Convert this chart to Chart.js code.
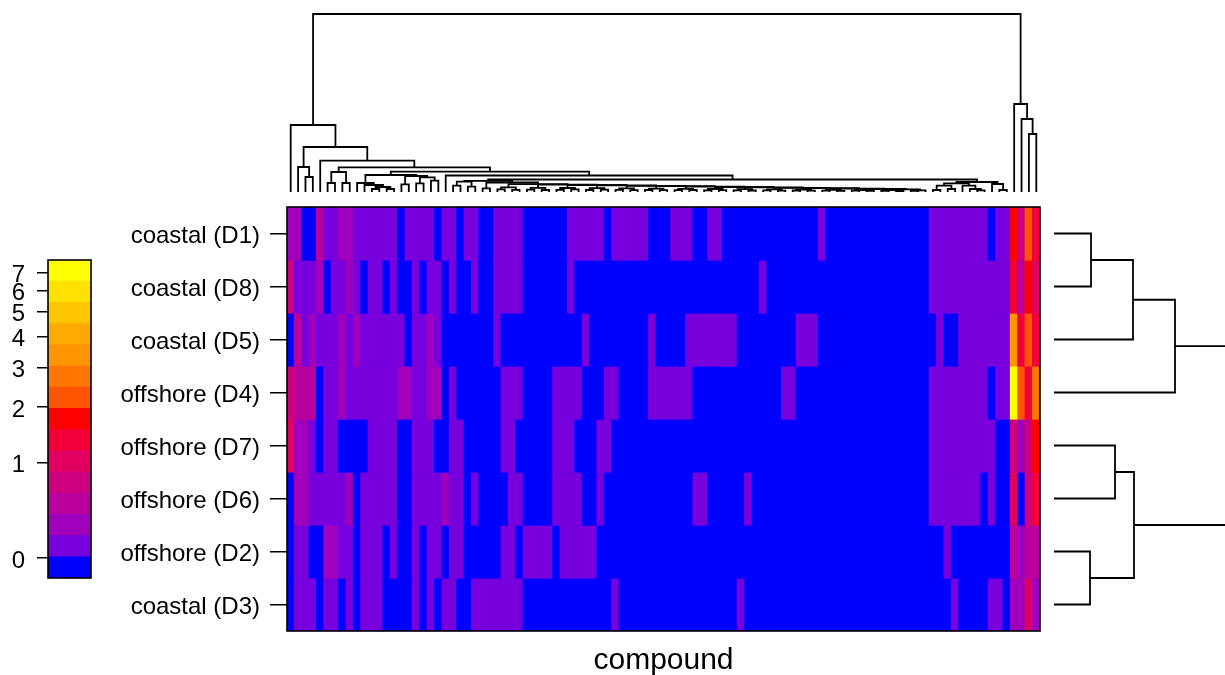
<!DOCTYPE html>
<html>
<head>
<meta charset="utf-8">
<title>compound heatmap</title>
<script src="https://cdn.jsdelivr.net/npm/chart.js@4"></script>
<style>
  html, body { margin: 0; padding: 0; background: #fff; }
  body { position: relative; width: 1225px; height: 675px; overflow: hidden; }
  canvas { position: absolute; display: block; }
</style>
</head>
<body>
<canvas id="chart-key" width="92" height="340" style="left:0;top:250px"></canvas>
<canvas id="chart-top" width="753" height="192" style="left:287px;top:0"></canvas>
<canvas id="chart-heat" width="1052" height="489" style="left:0;top:190px"></canvas>
<canvas id="chart-side" width="171" height="424" style="left:1054px;top:207px"></canvas>
<script>
const rowLabels = ['coastal (D1)', 'coastal (D8)', 'coastal (D5)', 'offshore (D4)', 'offshore (D7)', 'offshore (D6)', 'offshore (D2)', 'coastal (D3)'];
const xTitle = 'compound';

// colour level per compound, 102 columns in dendrogram order
const rowD1 = [2,2,0,0,3,1,1,2,2,1, 1,1,1,1,1,0,1,1,1,1, 0,1,1,0,1,1,0,0,1,1, 1,1,0,0,0,0,0,0,1,1, 1,1,1,0,1,1,1,1,1,0, 0,0,1,1,1,0,0,1,1,0, 0,0,0,0,0,0,0,0,0,0, 0,0,1,0,0,0,0,0,0,0, 0,0,0,0,0,0,0,1,1,1, 1,1,1,1,1,0,1,1,7,4, 8,6];
const rowD8 = [4,1,1,1,2,0,1,1,2,1, 0,1,1,0,1,0,0,1,0,1, 1,0,1,0,0,1,0,0,1,1, 1,1,0,0,0,0,0,0,1,0, 0,0,0,0,0,0,0,0,0,0, 0,0,0,0,0,0,0,0,0,0, 0,0,0,0,1,0,0,0,0,0, 0,0,0,0,0,0,0,0,0,0, 0,0,0,0,0,0,0,1,1,1, 1,1,1,1,1,1,1,1,6,3, 7,5];
const rowD5 = [0,3,1,2,1,1,1,2,1,2, 1,1,1,1,1,1,0,1,1,2, 1,0,0,0,0,0,0,0,1,0, 0,0,0,0,0,0,0,0,0,0, 1,0,0,0,0,0,0,0,0,1, 0,0,0,0,1,1,1,1,1,1, 1,0,0,0,0,0,0,0,0,1, 1,1,0,0,0,0,0,0,0,0, 0,0,0,0,0,0,0,0,1,0, 0,1,1,1,1,1,1,1,10,6, 8,6];
const rowD4 = [4,3,3,3,0,1,1,2,1,1, 1,1,1,1,1,2,2,1,1,2, 2,0,1,0,0,0,0,0,0,1, 1,1,0,0,0,0,1,1,1,1, 0,0,0,1,1,0,0,0,0,1, 1,1,1,1,1,0,0,0,0,0, 0,0,0,0,0,0,0,1,1,0, 0,0,0,0,0,0,0,0,0,0, 0,0,0,0,0,0,0,1,1,1, 1,1,1,1,1,0,1,1,14,8, 6,9];
const rowD7 = [5,2,2,1,0,1,1,0,0,0, 0,1,1,1,1,0,0,1,1,1, 0,0,1,1,0,0,0,0,0,1, 1,0,0,0,0,0,1,1,1,0, 0,0,1,1,0,0,0,0,0,0, 0,0,0,0,0,0,0,0,0,0, 0,0,0,0,0,0,0,0,0,0, 0,0,0,0,0,0,0,0,0,0, 0,0,0,0,0,0,0,1,1,1, 1,1,1,1,1,1,0,0,4,2, 4,7];
const rowD6 = [0,2,2,1,1,1,1,1,2,0, 1,1,1,1,1,0,0,1,1,1, 1,2,1,1,0,1,0,0,0,0, 1,1,0,0,0,0,1,1,1,1, 0,0,1,0,0,0,0,0,0,0, 0,0,0,0,0,1,1,0,0,0, 0,0,1,0,0,0,0,0,0,0, 0,0,0,0,0,0,0,0,0,0, 0,0,0,0,0,0,0,1,1,1, 1,1,1,1,0,1,0,0,5,0, 4,6];
const rowD2 = [0,1,1,0,0,2,2,1,1,0, 1,1,1,0,1,0,0,1,0,1, 1,0,1,1,0,0,0,0,0,1, 1,0,1,1,1,1,0,1,1,1, 1,1,0,0,0,0,0,0,0,0, 0,0,0,0,0,0,0,0,0,0, 0,0,0,0,0,0,0,0,0,0, 0,0,0,0,0,0,0,0,0,0, 0,0,0,0,0,0,0,0,0,1, 0,0,0,0,0,0,0,0,3,2, 3,3];
const rowD3 = [0,1,1,1,0,1,1,0,1,0, 1,1,1,0,0,0,0,1,0,1, 0,1,1,0,0,1,1,1,1,1, 1,1,0,0,0,0,0,0,0,0, 0,0,0,0,1,0,0,0,0,0, 0,0,0,0,0,0,0,0,0,0, 0,1,0,0,0,0,0,0,0,0, 0,0,0,0,0,0,0,0,0,0, 0,0,0,0,0,0,0,0,0,0, 1,0,0,0,0,1,1,0,2,2, 5,2];
const heatRows = [rowD1, rowD8, rowD5, rowD4, rowD7, rowD6, rowD2, rowD3];

const levelColors = ['#0000ff', '#7700dd', '#9e00bc', '#b9009d', '#cf007f', '#e10060', '#f20039', '#ff0000', '#ff5500', '#ff7700', '#ff9500', '#ffaa00', '#ffc600', '#ffe100', '#ffff00'];

// key runs on log(1 + value)
const keyTicks = [0, 1, 2, 3, 4, 5, 6, 7];
const keyBreaks = [-0.146, 0.009, 0.163, 0.317, 0.472, 0.626, 0.780, 0.934, 1.089, 1.243, 1.397, 1.552, 1.706, 1.860, 2.015, 2.169];

// hclust style merges: negative = leaf number, positive = earlier merge, then height
const topMerges = [
  [-3,-4,15], [-2,1,25], [-6,-7,9], [-8,-9,9], [3,4,20],
  [-12,-13,3], [-14,-15,3], [6,7,5], [-11,8,7], [-10,9,9],
  [-16,-17,7.7], [-18,-19,8.7], [-20,-21,11.3], [12,13,14.7], [11,14,16], [10,15,17],
  [-23,-24,6.3], [-25,-26,5.3], [17,18,10.3], [-27,-28,3.7],
  [-29,-30,2.6], [-31,-32,2.2], [21,22,4.6],
  [-33,-34,2.4], [-35,-36,2], [24,25,4.2],
  [-37,-38,2.2], [-39,-40,2.6], [27,28,4],
  [-41,-42,2], [-43,-44,2.4], [30,31,3.8],
  [-45,-46,2.2], [-47,-48,1.8], [33,34,3.6],
  [-49,-50,2], [-51,-52,1.8], [36,37,3.4],
  [-53,-54,1.8], [-55,-56,2], [39,40,3.2],
  [-57,-58,1.6], [-59,-60,1.9], [42,43,3],
  [-61,-62,1.7], [-63,-64,1.5], [45,46,2.8],
  [-65,-66,1.6], [-67,-68,1.4], [48,49,2.6],
  [-69,-70,1.5], [-71,-72,1.3], [51,52,2.4],
  [-73,-74,1.4], [-75,-76,1.2], [54,55,2.2],
  [-77,-78,1.3], [-79,-80,1.1], [57,58,2],
  [-81,-82,1.2], [-83,-84,1], [60,61,1.8],
  [-85,-86,1.1], [-87,63,1.6],
  [62,64,2.6], [59,65,3], [56,66,3.4], [53,67,3.8], [50,68,4.2], [47,69,4.6],
  [44,70,5], [41,71,5.4], [38,72,5.8], [35,73,6.2], [32,74,6.6], [29,75,7],
  [26,76,7.4], [23,77,7.8], [20,78,9.5], [19,79,11.2],
  [-88,-89,2], [-90,-91,3], [81,82,6.3], [-94,-95,1.7], [-93,84,3], [-92,85,6.3], [83,86,8.7],
  [-97,-98,2], [-96,88,8], [87,89,10], [80,90,12.5],
  [-22,91,16.5], [16,92,20.3], [5,93,24.7], [-5,94,31.3], [2,95,45], [-1,96,67],
  [-101,-102,58], [-100,98,73], [-99,99,88], [97,100,178],
];
const sideMerges = [[-1,-2,37], [1,-3,79], [2,-4,121], [-5,-6,61], [-7,-8,36], [4,5,80], [3,6,200]];

const FONT_FAMILY = '"Liberation Sans", Arial, sans-serif';
const LINE_COLOR = '#000';

const framePlugin = {
  id: 'frame',
  afterDraw(chart) {
    const { ctx, chartArea } = chart;
    ctx.save();
    ctx.strokeStyle = LINE_COLOR;
    ctx.lineWidth = 1.6;
    ctx.strokeRect(chartArea.left, chartArea.top, chartArea.width, chartArea.height);
    ctx.restore();
  },
};

// turns merges into one U shaped line each, at [position, height]
function mergeLines(merges) {
  const nodes = [];
  const locate = (ref) => (ref < 0 ? { pos: -ref - 0.5, height: 0 } : nodes[ref - 1]);
  const lines = merges.map(([left, right, height]) => {
    const a = locate(left);
    const b = locate(right);
    nodes.push({ pos: (a.pos + b.pos) / 2, height });
    return [[a.pos, a.height], [a.pos, height], [b.pos, height], [b.pos, b.height]];
  });
  return lines;
}

function dendroDatasets(merges, toPoint) {
  return mergeLines(merges).map((line) => ({
    data: line.map(toPoint),
    showLine: true,
    pointRadius: 0,
    borderColor: LINE_COLOR,
    borderWidth: 1.8,
    tension: 0,
  }));
}

function baseOptions(scales, padding = 0) {
  return {
    responsive: false,
    animation: false,
    events: [],
    layout: { padding },
    plugins: { legend: { display: false }, tooltip: { enabled: false } },
    scales,
  };
}

function makeTopDendrogram() {
  new Chart(document.getElementById('chart-top'), {
    type: 'scatter',
    data: { datasets: dendroDatasets(topMerges, ([pos, height]) => ({ x: pos - 0.5, y: height })) },
    options: baseOptions({
      x: { type: 'linear', display: false, min: -0.5, max: 101.5 },
      y: { type: 'linear', display: false, min: 0, max: 192 },
    }),
  });
}

function makeSideDendrogram() {
  new Chart(document.getElementById('chart-side'), {
    type: 'scatter',
    data: { datasets: dendroDatasets(sideMerges, ([pos, height]) => ({ x: height, y: pos })) },
    options: baseOptions({
      x: { type: 'linear', display: false, min: 0, max: 171 },
      y: { type: 'linear', display: false, min: 0, max: 8, reverse: true },
    }),
  });
}

function makeHeatmap() {
  new Chart(document.getElementById('chart-heat'), {
    type: 'bar',
    data: {
      labels: rowD1.map((_, i) => i + 1),
      datasets: heatRows.map((row, i) => ({
        label: rowLabels[i],
        data: row.map(() => 1),
        backgroundColor: row.map((level) => levelColors[level]),
        barPercentage: 1,
        categoryPercentage: 1,
        inflateAmount: 0.6,
      })),
    },
    options: baseOptions({
      x: {
        stacked: true,
        grid: { display: false },
        border: { display: false },
        ticks: { display: false },
        title: { display: true, text: xTitle, color: LINE_COLOR, font: { family: FONT_FAMILY, size: 30 }, padding: { top: 13, bottom: 0 } },
        afterFit(axis) { axis.height = 48; },
      },
      y: {
        stacked: true,
        min: 0,
        max: 8,
        reverse: true,
        border: { display: false },
        grid: { drawOnChartArea: false, tickLength: 17, color: LINE_COLOR, lineWidth: 1.5 },
        afterBuildTicks(axis) { axis.ticks = rowLabels.map((_, i) => ({ value: i + 0.5 })); },
        ticks: {
          autoSkip: false,
          padding: 10,
          labelOffset: 3,
          color: LINE_COLOR,
          font: { family: FONT_FAMILY, size: 24 },
          callback: (_value, index) => rowLabels[index],
        },
        afterFit(axis) {
          axis.width = 287;
          axis.paddingTop = 0;
          axis.paddingBottom = 0;
        },
      },
    }, { top: 17, right: 12 }),
    plugins: [framePlugin],
  });
}

function makeColorKey() {
  new Chart(document.getElementById('chart-key'), {
    type: 'bar',
    data: {
      labels: ['key'],
      datasets: levelColors.map((color, i) => ({
        data: [[keyBreaks[i], keyBreaks[i + 1]]],
        backgroundColor: color,
        grouped: false,
        barPercentage: 1,
        categoryPercentage: 1,
      })),
    },
    options: baseOptions({
      x: { display: false },
      y: {
        min: keyBreaks[0],
        max: keyBreaks[keyBreaks.length - 1],
        border: { display: false },
        grid: { drawOnChartArea: false, tickLength: 11, color: LINE_COLOR, lineWidth: 1.5 },
        afterBuildTicks(axis) { axis.ticks = keyTicks.map((v) => ({ value: Math.log(1 + v) })); },
        ticks: {
          autoSkip: false,
          padding: 12,
          labelOffset: 3,
          color: LINE_COLOR,
          font: { family: FONT_FAMILY, size: 24 },
          callback: (_value, index) => keyTicks[index],
        },
        afterFit(axis) {
          axis.width = 48;
          axis.paddingTop = 0;
          axis.paddingBottom = 0;
        },
      },
    }, { top: 10, bottom: 12, right: 1 }),
    plugins: [framePlugin],
  });
}

makeTopDendrogram();
makeSideDendrogram();
makeHeatmap();
makeColorKey();
</script>
</body>
</html>
